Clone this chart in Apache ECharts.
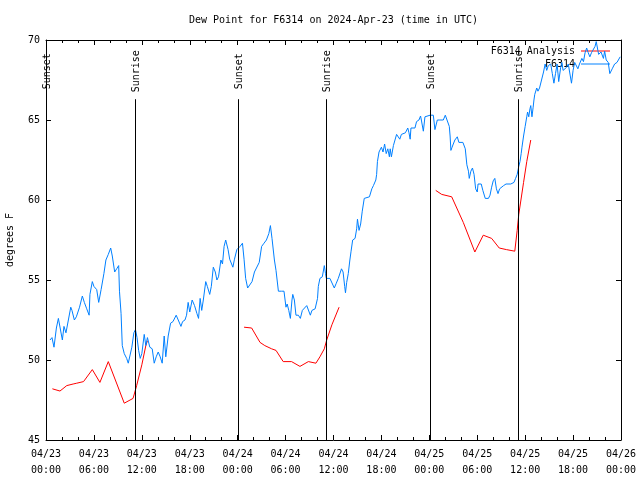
<!DOCTYPE html>
<html>
<head>
<meta charset="utf-8">
<script src="https://cdn.jsdelivr.net/npm/echarts@6/dist/echarts.min.js"></script>
<style>html,body{margin:0;padding:0;background:#fff;}#c{width:640px;height:480px;}</style>
</head>
<body>
<div id="c"></div>
<script>
// ---- data (hours since 2024-04-23 00:00 UTC) ----
const titleText = 'Dew Point for F6314 on 2024-Apr-23 (time in UTC)';
const dayLabels = ['04/23', '04/24', '04/25', '04/26'];

const blueHours = [0.5,0.75,1.0,1.3,1.55,1.75,2.05,2.25,2.5,2.8,3.1,3.25,3.55,3.8,4.2,4.55,4.8,5.1,5.4,5.5,5.8,6.0,6.35,6.6,6.9,7.25,7.5,7.8,8.1,8.3,8.6,8.85,9.1,9.2,9.4,9.55,9.8,10.1,10.3,10.55,10.75,11.0,11.2,11.4,11.6,11.8,12.0,12.3,12.5,12.7,13.0,13.3,13.55,13.8,14.05,14.3,14.55,14.8,15.0,15.3,15.6,15.9,16.3,16.5,16.9,17.1,17.4,17.6,17.8,18.0,18.3,18.6,18.9,19.1,19.3,19.5,19.7,20.0,20.2,20.5,20.7,20.95,21.2,21.4,21.6,21.9,22.1,22.3,22.5,22.8,23.0,23.4,23.6,23.9,24.1,24.3,24.6,24.8,25.0,25.25,25.5,25.8,26.1,26.3,26.7,27.0,27.3,27.6,27.9,28.1,28.3,28.6,28.8,29.1,29.5,29.8,30.05,30.2,30.4,30.6,30.8,30.9,31.1,31.3,31.6,31.85,32.1,32.3,32.65,32.85,33.1,33.3,33.5,33.7,34.0,34.1,34.3,34.6,34.85,35.0,35.1,35.55,35.8,36.1,36.35,36.6,37.0,37.2,37.4,37.5,37.65,37.85,38.05,38.2,38.4,38.7,38.9,39.0,39.2,39.4,39.6,39.85,40.1,40.5,40.8,41.0,41.3,41.4,41.5,41.7,42.0,42.2,42.4,42.6,42.8,43.0,43.1,43.25,43.5,43.7,43.9,44.1,44.3,44.5,44.7,45.0,45.3,45.45,45.6,45.7,45.9,46.2,46.4,46.7,46.9,47.0,47.25,47.45,47.6,48.1,48.5,48.7,49.0,49.3,49.75,50.0,50.25,50.5,50.6,50.7,50.85,51.0,51.2,51.5,51.7,52.2,52.5,52.7,52.9,53.0,53.2,53.4,53.6,53.8,54.0,54.1,54.5,54.7,55.0,55.4,55.6,55.8,56.0,56.2,56.4,56.6,56.8,57.0,57.3,57.6,57.8,58.2,58.6,58.8,59.0,59.2,59.35,59.5,59.6,59.8,60.0,60.2,60.3,60.45,60.6,60.7,60.85,61.0,61.1,61.2,61.45,61.6,61.8,62.05,62.3,62.5,62.7,62.9,63.0,63.2,63.4,63.6,63.8,64.0,64.2,64.45,64.6,64.75,65.0,65.2,65.4,65.6,65.8,66.0,66.2,66.4,66.6,66.8,67.1,67.3,67.5,67.7,67.9,68.1,68.3,68.5,68.75,68.9,69.05,69.2,69.35,69.5,69.8,69.95,70.15,70.4,70.6,70.9,71.2,71.5,71.9];
const blueDew = [51.25,51.4,50.8,52.0,52.6,52.5,51.25,52.1,51.7,52.5,53.3,53.1,52.5,52.7,53.3,54.0,53.6,53.2,52.8,54.1,54.9,54.6,54.4,53.6,54.4,55.4,56.25,56.6,57.0,56.5,55.5,55.7,55.9,54.3,52.9,50.9,50.4,50.1,49.8,49.8,50.8,51.7,51.9,51.4,50.6,50.1,50.4,51.6,50.9,51.4,50.8,50.7,49.8,50.2,50.5,50.2,49.8,51.5,50.2,51.5,52.3,52.4,52.8,52.8,52.1,52.4,52.5,52.8,53.6,53.0,53.75,53.4,52.9,52.6,53.85,53.1,53.75,54.9,54.6,54.1,54.6,55.8,55.5,55.0,55.2,56.25,56.0,57.1,57.5,56.9,56.3,55.8,56.3,56.9,56.9,57.1,57.3,56.3,55.1,54.5,54.5,54.9,55.5,55.45,56.1,57.1,57.3,57.5,57.9,58.4,57.6,56.25,55.6,54.3,54.3,54.3,53.3,53.5,53.1,52.6,53.75,54.1,53.75,52.8,52.8,52.6,53.1,53.2,53.4,53.3,52.8,53.1,53.1,53.2,53.85,54.6,55.1,55.2,55.9,55.4,55.1,55.1,55.1,54.5,54.8,55.1,55.7,55.5,54.6,54.2,54.85,55.4,56.25,56.8,57.5,57.6,58.2,58.8,58.1,58.5,59.3,60.1,60.2,60.2,60.7,60.9,61.25,61.6,62.4,63.0,63.3,63.0,63.5,62.9,63.2,62.7,63.2,62.7,63.4,63.75,64.1,64.0,63.8,64.1,64.1,64.2,64.5,64.2,63.8,64.5,64.5,64.5,64.9,65.0,65.25,65.0,64.3,65.2,65.3,65.3,65.3,64.4,65.0,65.0,65.0,65.3,65.2,64.6,64.0,63.1,63.3,63.5,63.75,63.95,63.6,63.6,63.2,62.2,61.8,61.35,61.8,62.0,61.6,60.7,60.5,61.0,61.0,60.6,60.1,60.1,60.3,60.8,61.2,61.35,60.7,60.4,60.7,60.65,60.9,61.0,60.9,61.0,61.1,61.35,61.6,62.1,62.4,62.9,63.3,64.0,64.6,65.2,65.5,65.2,65.7,65.9,65.2,65.8,66.25,66.6,67.0,66.8,67.0,67.5,68.0,68.5,68.1,68.4,68.3,68.5,67.9,67.3,67.9,68.5,67.4,68.3,68.6,68.1,68.0,68.3,68.5,68.5,67.3,68.1,68.6,68.5,68.2,68.5,68.85,68.65,69.2,69.5,69.2,68.95,69.2,69.1,69.6,69.9,69.9,69.1,69.0,69.25,68.85,69.3,68.75,68.6,67.9,68.2,68.5,68.6,68.95];

// Analysis (null = gap in the record)
const redHours = [0.8,1.75,2.6,3.4,3.85,4.7,5.8,6.75,7.8,9.8,10.9,11.35,12.0,12.5,12.7,18,24.8,25.75,26.8,27.4,28.25,28.8,29.7,30.75,31.8,32.85,33.8,34.3,34.85,35.15,35.8,36.7,42,48.8,49.55,50.8,52.25,53.7,54.75,55.8,56.75,57.65,58.7,59.0,59.2,59.8,60.2,60.7];
const redDew = [48.2,48.06,48.4,48.5,48.55,48.65,49.4,48.6,49.9,47.3,47.6,48.4,49.7,50.9,51.2,null,52.05,52.0,51.1,50.9,50.7,50.6,49.9,49.9,49.6,49.9,49.8,50.2,50.7,51.25,52.2,53.3,null,60.6,60.35,60.2,58.6,56.75,57.8,57.6,57.0,56.9,56.8,58.1,59.1,61.1,62.4,63.75];

const sunHours = [0.06, 11.12, 24.03, 35.06, 48.07, 59.1];
const sunLabels = ['Sunset', 'Sunrise', 'Sunset', 'Sunrise', 'Sunset', 'Sunrise'];
const sunLineTop = 66.3;   // value where the marker line starts
const sunLabelAt = 68.05;  // value where the marker label is centred

// ---- chart ----
const FONT = 'DejaVu Sans Mono';
const chart = echarts.init(document.getElementById('c'), null, {renderer: 'canvas'});

function xLabel(v) {
  const d = Math.floor(v / 24);
  const h = v - d * 24;
  return dayLabels[d] + '\n' + String(h).padStart(2, '0') + ':00';
}

const xCommon = {
  type: 'value', min: 0, max: 72, interval: 6,
  axisLine: {show: true, onZero: false, lineStyle: {color: '#000', width: 1}},
  axisTick: {show: true, inside: true, length: 5, lineStyle: {color: '#000'}},
  minorTick: {show: true, splitNumber: 3, length: 3, lineStyle: {color: '#000'}},
  splitLine: {show: false}, minorSplitLine: {show: false}
};
const yCommon = {
  type: 'value', min: 45, max: 70, interval: 5,
  axisLine: {show: true, onZero: false, lineStyle: {color: '#000', width: 1}},
  axisTick: {show: true, inside: true, length: 5, lineStyle: {color: '#000'}},
  splitLine: {show: false}
};

const option = {
  animation: false,
  backgroundColor: '#fff',
  textStyle: {fontFamily: FONT},
  title: {
    text: titleText, left: 184, top: 10,
    textStyle: {fontFamily: FONT, fontSize: 10, fontWeight: 'normal', color: '#000'}
  },
  legend: {
    orient: 'vertical', right: 25, top: 41, align: 'right',
    icon: 'rect', itemWidth: 29, itemHeight: 1, itemGap: 3,
    data: ['F6314 Analysis', 'F6314'],
    textStyle: {fontFamily: FONT, fontSize: 10, color: '#000', padding: [0, 1, 0, 0]}
  },
  grid: {left: 46, right: 19, top: 40, bottom: 40, containLabel: false, outerBoundsMode: 'none'},
  xAxis: [
    Object.assign({}, xCommon, {
      position: 'bottom',
      axisLabel: {show: true, formatter: xLabel, margin: 6, fontFamily: FONT, fontSize: 10, color: '#000', lineHeight: 16}
    }),
    Object.assign({}, xCommon, {position: 'top', axisLabel: {show: false}})
  ],
  yAxis: [
    Object.assign({}, yCommon, {
      position: 'left',
      name: 'degrees F', nameLocation: 'middle', nameGap: 31, nameRotate: 90,
      nameTextStyle: {fontFamily: FONT, fontSize: 10, color: '#000'},
      axisLabel: {show: true, margin: 6, fontFamily: FONT, fontSize: 10, color: '#000'}
    }),
    Object.assign({}, yCommon, {position: 'right', axisLabel: {show: false}})
  ],
  series: [
    {
      name: 'F6314 Analysis', type: 'line', xAxisIndex: 0, yAxisIndex: 0,
      symbol: 'none', connectNulls: false,
      lineStyle: {color: '#ff0000', width: 1}, itemStyle: {color: '#ff0000'},
      data: redHours.map((h, i) => [h, redDew[i]]),
      z: 3
    },
    {
      name: 'F6314', type: 'line', xAxisIndex: 0, yAxisIndex: 0,
      symbol: 'none',
      lineStyle: {color: '#0080ff', width: 1}, itemStyle: {color: '#0080ff'},
      data: blueHours.map((h, i) => [h, blueDew[i]]),
      z: 4
    },
    {
      name: 'sun', type: 'custom', xAxisIndex: 0, yAxisIndex: 0, silent: true,
      data: sunHours.map(h => [h, 45]),
      renderItem: function (params, api) {
        const x = api.value(0);
        const top = api.coord([x, sunLineTop]);
        const bot = api.coord([x, 45]);
        const lab = api.coord([x, sunLabelAt]);
        const px = Math.round(top[0]) + 0.5;
        return {
          type: 'group',
          children: [
            {type: 'line', shape: {x1: px, y1: top[1], x2: px, y2: bot[1]},
             style: {stroke: '#000', lineWidth: 1}},
            {type: 'text', x: px + 1, y: lab[1], rotation: Math.PI / 2,
             style: {text: sunLabels[params.dataIndex], align: 'center', verticalAlign: 'middle',
                     font: '10px ' + FONT, fill: '#000'}}
          ]
        };
      },
      z: 5
    }
  ]
};
chart.setOption(option);
</script>
</body>
</html>
